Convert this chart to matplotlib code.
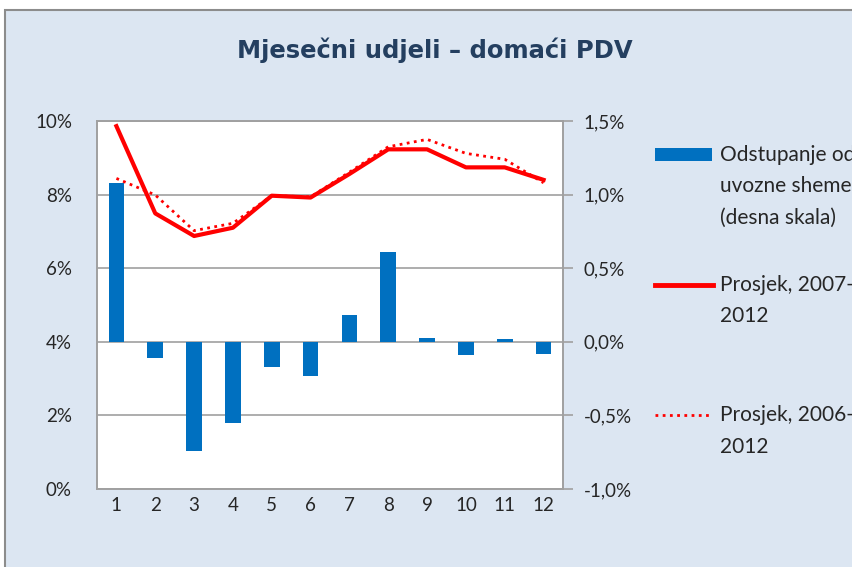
import matplotlib.pyplot as plt
import matplotlib.patches as patches
from matplotlib.lines import Line2D
from matplotlib.ticker import FuncFormatter

# Data
months = list(range(1, 13))
odstupanje = [1.08, -0.11, -0.74, -0.555, -0.17, -0.23, 0.18, 0.61, 0.027, -0.09, 0.018, -0.085]
prosjek_2007 = [9.86, 7.49, 6.875, 7.10, 7.97, 7.92, 8.56, 9.23, 9.23, 8.74, 8.74, 8.40]
prosjek_2006 = [8.44, 7.99, 7.02, 7.22, 7.97, 7.94, 8.61, 9.30, 9.50, 9.12, 8.96, 8.32]

title = 'Mjesečni udjeli – domaći PDV'
font = ['Lato', 'DejaVu Sans']
txt_color = '#262626'
bg = '#dce6f2'

fig = plt.figure(figsize=(8.52, 5.67), dpi=100)
fig.patch.set_facecolor('white')

# Chart area background with grey border (clipped at right/bottom like the reference)
W, H = 852, 567
frame = patches.Rectangle((5 / W, -0.1), 1.2, 1.1 - 10 / H, transform=fig.transFigure,
                          facecolor=bg, edgecolor='#8c8c8c', linewidth=1.5, zorder=-10)
fig.patches.append(frame)

fig.text(435 / W, 1 - 50 / H, title, ha='center', va='center', fontsize=17.5,
         fontweight='bold', color='#243f60', family='DejaVu Sans')

# Axes: bars on the right scale, lines on the left scale
ax = fig.add_axes([97 / W, 1 - 489 / H, (563 - 97) / W, (489 - 121) / H])
ax.set_facecolor('white')
ax.bar(months, odstupanje, width=0.4, color='#0070c0', zorder=3)
ax.set_ylim(-1.0, 1.5)
ax.set_yticks([-1.0, -0.5, 0.0, 0.5, 1.0, 1.5])
ax.yaxis.set_major_formatter(FuncFormatter(lambda v, p: f'{v:.1f}%'.replace('.', ',')))
ax.grid(axis='y', color='#a0a0a0', linewidth=1.2, zorder=0)
ax.set_xlim(0.5, 12.5)
ax.set_xticks(months)

ax2 = ax.twinx()
ax2.plot(months, prosjek_2007, color='#ff0000', linewidth=3, zorder=4)
ax2.plot(months, prosjek_2006, color='#ff0000', linewidth=2, linestyle=(0, (1, 1.6)), zorder=5)
ax2.set_ylim(0, 10)
ax2.set_yticks([0, 2, 4, 6, 8, 10])
ax2.yaxis.tick_left()
ax2.yaxis.set_major_formatter(FuncFormatter(lambda v, p: f'{v:.0f}%'))
ax2.tick_params(axis='y', length=0, pad=18)

# twinx moved the bar axis ticks to the left, put them back on the right
ax.yaxis.tick_right()
ax.tick_params(axis='x', length=0, pad=6)
ax.tick_params(axis='y', length=7, width=1.2, color='#a0a0a0', pad=8)

for a in (ax, ax2):
    for s in a.spines.values():
        s.set_color('#a0a0a0')
        s.set_linewidth(1.2)
    for lab in a.get_xticklabels() + a.get_yticklabels():
        lab.set_family(font)
        lab.set_fontsize(13.5)
        lab.set_color(txt_color)

# Legend drawn by hand so the handles line up with the first text line
fig.patches.append(patches.Rectangle((655 / W, 1 - 161 / H), 57 / W, 13 / H,
                                     transform=fig.transFigure, facecolor='#0070c0'))
fig.lines.append(Line2D([655 / W, 713 / W], [1 - 285 / H] * 2, transform=fig.transFigure,
                        color='#ff0000', linewidth=3.5))
fig.lines.append(Line2D([655 / W, 711 / W], [1 - 415 / H] * 2, transform=fig.transFigure,
                        color='#ff0000', linewidth=2, linestyle=(0, (1, 1.6))))

legend_lines = [
    (155, 'Odstupanje od'), (186, 'uvozne sheme'), (218, '(desna skala)'),
    (285, 'Prosjek, 2007-'), (316, '2012'),
    (415, 'Prosjek, 2006-'), (447, '2012'),
]
for y, t in legend_lines:
    fig.text(720 / W, 1 - y / H, t, ha='left', va='center', fontsize=15,
             family=font, color=txt_color)

fig.savefig('out.png', dpi=100)
